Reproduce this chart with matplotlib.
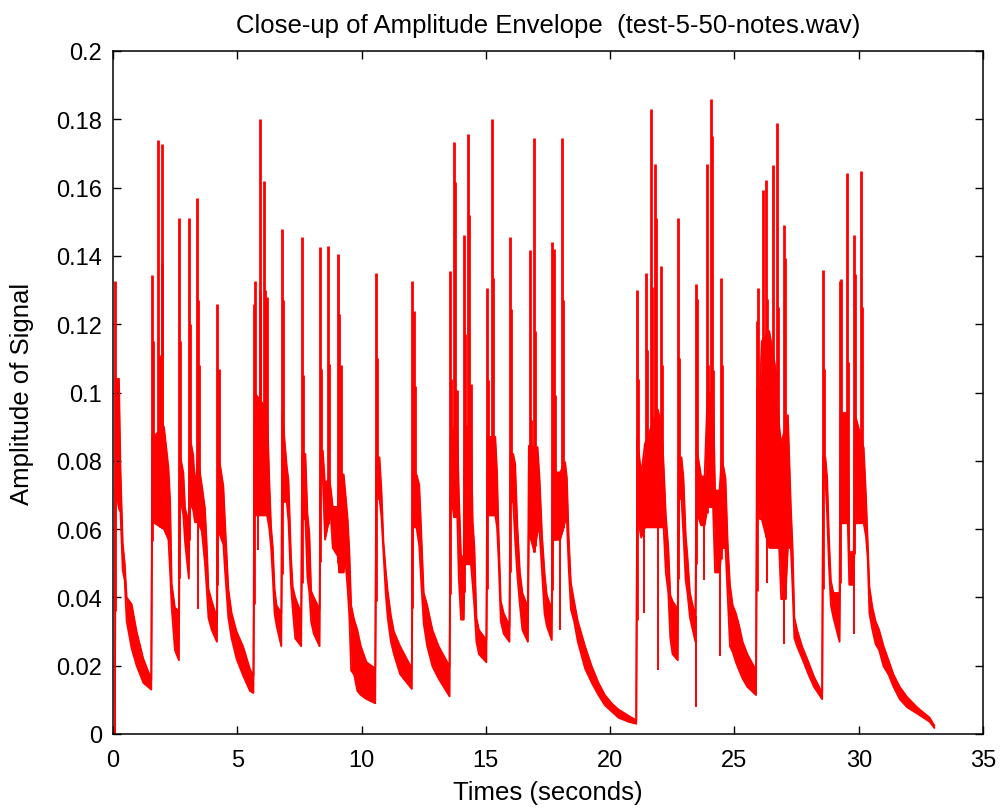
import numpy as np
import matplotlib.pyplot as plt

plt.rcParams['font.family'] = ['Liberation Sans', 'DejaVu Sans']

# dense part of the envelope: time (s), upper and lower edge
band_t = [0.00, 0.08, 0.10, 0.24, 0.30, 0.39, 0.47, 0.55, 0.75, 0.95, 1.22, 1.54,
          1.58, 1.62, 2.05, 2.23, 2.30, 2.36, 2.49, 2.65,
          2.69, 2.83, 2.90, 3.05, 3.09, 3.23, 3.30, 3.41, 3.57, 3.70, 3.77, 3.84, 3.97, 4.18,
          4.22, 4.44, 4.50, 4.64, 4.77, 4.97, 5.24, 5.51, 5.65,
          5.69, 6.20, 6.29, 6.36, 6.43, 6.50, 6.58, 6.77,
          6.81, 6.99, 7.06, 7.16, 7.23, 7.33, 7.57,
          7.61, 7.74, 7.82, 7.90, 7.97, 8.08, 8.31,
          8.35, 8.44, 8.53, 8.70, 8.77, 8.84, 9.05, 9.10, 9.28, 9.34, 9.44, 9.51, 9.58, 9.70,
          9.83, 9.97, 10.20, 10.55,
          10.59, 10.72, 10.80, 10.88, 10.97, 11.05, 11.18, 11.30, 11.55, 12.02,
          12.06, 12.21, 12.32, 12.40, 12.50, 12.64, 12.85, 13.10, 13.54,
          13.58, 13.72, 13.85, 13.91, 14.00, 14.11, 14.15, 14.40, 14.47, 14.54, 14.62, 14.72, 15.02,
          15.06, 15.38, 15.45, 15.51, 15.60, 15.72, 15.95,
          15.99, 16.10, 16.18, 16.27, 16.37, 16.47, 16.69,
          16.73, 16.95, 17.08, 17.16, 17.26, 17.36, 17.45, 17.65,
          17.69, 17.99, 18.19, 18.26, 18.33, 18.42, 18.55, 18.70, 18.99, 19.26, 19.53, 19.79,
          20.06, 20.33, 20.73, 21.05,
          21.09, 21.25, 21.40, 21.92, 22.07, 22.15, 22.24, 22.34, 22.42, 22.51, 22.72,
          22.76, 22.87, 22.95, 23.04, 23.11, 23.21, 23.43,
          23.48, 23.66, 23.80, 23.92, 24.14, 24.22, 24.40, 24.49, 24.64, 24.73, 24.82, 24.93,
          25.06, 25.19, 25.33, 25.52, 25.87,
          25.91, 26.03, 26.10, 26.40, 26.70, 26.80, 26.88, 27.05, 27.15, 27.27, 27.34, 27.41,
          27.52, 27.72, 27.98, 28.20, 28.53,
          28.57, 28.66, 28.73, 28.80, 28.88, 28.98, 29.23,
          29.27, 29.56, 29.62, 29.80, 29.84, 30.20, 30.29, 30.36, 30.43, 30.55, 30.68, 30.82,
          31.00, 31.20, 31.40, 31.65, 31.95, 32.35, 32.85, 33.04]
band_hi = [0.001, 0.001, 0.104, 0.104, 0.078, 0.056, 0.050, 0.040, 0.038, 0.030, 0.022, 0.016,
           0.087, 0.087, 0.090, 0.078, 0.068, 0.044, 0.037, 0.036,
           0.082, 0.0765, 0.066, 0.062, 0.087, 0.0815, 0.0715, 0.081, 0.073, 0.066, 0.0555, 0.0425, 0.039, 0.034,
           0.083, 0.0725, 0.063, 0.0425, 0.0355, 0.030, 0.0255, 0.019, 0.017,
           0.100, 0.095, 0.0737, 0.0605, 0.0545, 0.0425, 0.0377, 0.0353,
           0.094, 0.0784, 0.0743, 0.052, 0.043, 0.040, 0.0353,
           0.082, 0.082, 0.0647, 0.0587, 0.0419, 0.040, 0.0365,
           0.083, 0.083, 0.073, 0.075, 0.0713, 0.0665, 0.0665, 0.076, 0.076, 0.0713, 0.0629, 0.0533, 0.0377, 0.0335,
           0.0305, 0.0257, 0.021, 0.0192,
           0.081, 0.081, 0.0713, 0.0563, 0.048, 0.0419, 0.0347, 0.030, 0.0257, 0.0192,
           0.076, 0.076, 0.073, 0.0593, 0.0413, 0.0377, 0.0305, 0.0257, 0.0198,
           0.087, 0.090, 0.090, 0.0713, 0.052, 0.052, 0.090, 0.090, 0.0623, 0.0545, 0.0341, 0.0305, 0.0275,
           0.087, 0.087, 0.0766, 0.0593, 0.0389, 0.0353, 0.0317,
           0.082, 0.082, 0.079, 0.0605, 0.0473, 0.0413, 0.0371,
           0.0844, 0.084, 0.084, 0.0749, 0.0581, 0.0473, 0.0407, 0.0365,
           0.0766, 0.0766, 0.0796, 0.0749, 0.0581, 0.0443, 0.0389, 0.033, 0.0257, 0.0198, 0.015, 0.0114,
           0.009, 0.0072, 0.0054, 0.0040,
           0.087, 0.076, 0.085, 0.095, 0.090, 0.079, 0.064, 0.0545, 0.0407, 0.0389, 0.0365,
           0.081, 0.081, 0.0749, 0.0581, 0.052, 0.0413, 0.0341,
           0.0838, 0.0754, 0.0754, 0.100, 0.100, 0.0713, 0.0713, 0.081, 0.0749, 0.0557, 0.0437, 0.0377,
           0.0353, 0.0317, 0.027, 0.0234, 0.0186,
           0.1012, 0.1012, 0.115, 0.118, 0.105, 0.0904, 0.085, 0.090, 0.0934, 0.0665, 0.0545, 0.0341,
           0.0305, 0.0257, 0.021, 0.0168, 0.012,
           0.081, 0.081, 0.075, 0.0581, 0.0449, 0.0413, 0.0413,
           0.094, 0.094, 0.0533, 0.0533, 0.094, 0.0838, 0.070, 0.0569, 0.0431, 0.0371, 0.033, 0.0305,
           0.0257, 0.0216, 0.0174, 0.0138, 0.0108, 0.0078, 0.0048, 0.0025]
band_lo = [0.000, 0.000, 0.072, 0.066, 0.065, 0.048, 0.045, 0.033, 0.025, 0.020, 0.015, 0.013,
           0.071, 0.062, 0.060, 0.057, 0.047, 0.037, 0.0246, 0.0216,
           0.070, 0.064, 0.056, 0.0455, 0.068, 0.0655, 0.062, 0.062, 0.0595, 0.050, 0.0425, 0.034, 0.0305, 0.027,
           0.060, 0.0555, 0.0485, 0.034, 0.028, 0.022, 0.017, 0.0126, 0.012,
           0.064, 0.064, 0.060, 0.0545, 0.0455, 0.0353, 0.0317, 0.0257,
           0.068, 0.068, 0.0623, 0.0437, 0.0365, 0.028, 0.0257,
           0.0629, 0.0629, 0.046, 0.0413, 0.0329, 0.0293, 0.0257,
           0.075, 0.075, 0.0569, 0.0629, 0.0629, 0.0545, 0.052, 0.0473, 0.0473, 0.0515, 0.0425, 0.0341, 0.0186, 0.0174,
           0.0126, 0.0114, 0.0102, 0.009,
           0.0689, 0.0689, 0.0635, 0.0533, 0.0413, 0.0341, 0.027, 0.0234, 0.0175, 0.0132,
           0.0605, 0.0605, 0.0551, 0.0443, 0.0323, 0.0257, 0.0198, 0.0162, 0.011,
           0.071, 0.0635, 0.0635, 0.046, 0.0335, 0.0335, 0.0497, 0.0497, 0.0437, 0.0371, 0.027, 0.0234, 0.021,
           0.064, 0.064, 0.0605, 0.0515, 0.033, 0.0293, 0.027,
           0.068, 0.068, 0.0563, 0.0461, 0.0377, 0.0305, 0.027,
           0.0593, 0.0533, 0.0593, 0.0593, 0.0473, 0.0353, 0.0317, 0.0275,
           0.0569, 0.0569, 0.0623, 0.0623, 0.0491, 0.0365, 0.033, 0.027, 0.0192, 0.015, 0.0114, 0.0084,
           0.0066, 0.0048, 0.0036, 0.0030,
           0.064, 0.0575, 0.0605, 0.0605, 0.0605, 0.0605, 0.0473, 0.0413, 0.0281, 0.0234, 0.0216,
           0.0689, 0.0689, 0.0581, 0.0449, 0.0413, 0.0341, 0.027,
           0.065, 0.0611, 0.0611, 0.0665, 0.0665, 0.0473, 0.0473, 0.0545, 0.0545, 0.0401, 0.0257, 0.024,
           0.021, 0.0186, 0.0162, 0.0138, 0.0114,
           0.0725, 0.0629, 0.0629, 0.0545, 0.0545, 0.0545, 0.0395, 0.0395, 0.0545, 0.0545, 0.0425, 0.0281,
           0.0257, 0.0222, 0.0174, 0.0138, 0.0102,
           0.075, 0.075, 0.064, 0.0497, 0.0377, 0.0341, 0.027,
           0.0617, 0.0617, 0.0437, 0.0437, 0.0617, 0.0617, 0.058, 0.0515, 0.0353, 0.0305, 0.0263, 0.0246,
           0.0198, 0.0174, 0.0138, 0.0102, 0.0078, 0.006, 0.0036, 0.0018]

# note attacks and other narrow peaks: time (s) and top value
spike_t = [0.09,
           1.57, 1.60, 1.80, 1.89, 1.96, 1.99,
           2.67, 2.71, 3.07, 3.10, 3.39, 3.43, 3.46,
           4.20, 4.26,
           5.67, 5.73, 5.90, 5.93, 6.08, 6.11, 6.18,
           6.79, 6.85,
           7.59, 7.65,
           8.33, 8.38, 8.66, 8.70, 9.07, 9.10, 9.18,
           10.57, 10.62,
           12.04, 12.09, 12.15,
           13.56, 13.60, 13.72, 13.76, 13.85, 14.13, 14.17, 14.30, 14.34, 14.40,
           15.04, 15.10, 15.26, 15.30,
           15.97, 16.02,
           16.78, 16.82, 16.95, 16.99,
           17.67, 17.73, 17.80, 18.08, 18.12,
           21.07, 21.11, 21.44, 21.48, 21.64, 21.68, 21.80, 21.84, 22.03, 22.07,
           22.74, 22.79,
           23.46, 23.50, 23.88, 23.92, 24.04, 24.08, 24.14, 24.45, 24.49,
           25.89, 25.93, 26.14, 26.29, 26.32, 26.54, 26.70, 26.74, 27.01, 27.05,
           28.55, 28.60,
           29.25, 29.30, 29.52, 29.56, 29.82, 29.86, 30.09, 30.13]
spike_top = [0.1326,
             0.1345, 0.115, 0.174, 0.111, 0.1727, 0.138,
             0.151, 0.115, 0.151, 0.120, 0.157, 0.127, 0.108,
             0.126, 0.107,
             0.126, 0.1326, 0.180, 0.130, 0.162, 0.130, 0.128,
             0.148, 0.127,
             0.1455, 0.105,
             0.1425, 0.107, 0.143, 0.1084, 0.1407, 0.123, 0.108,
             0.135, 0.110,
             0.1326, 0.124, 0.102,
             0.1357, 0.104, 0.1733, 0.1617, 0.1006, 0.146, 0.117, 0.1757, 0.152, 0.1024,
             0.1305, 0.1036, 0.180, 0.1335,
             0.1455, 0.1245,
             0.1417, 0.092, 0.1745, 0.118,
             0.144, 0.142, 0.0994, 0.1745, 0.127,
             0.130, 0.104, 0.135, 0.1125, 0.183, 0.131, 0.167, 0.151, 0.137, 0.108,
             0.151, 0.110,
             0.1317, 0.1275, 0.167, 0.108, 0.186, 0.175, 0.1066, 0.1335, 0.108,
             0.121, 0.1305, 0.1593, 0.1623, 0.1275, 0.1665, 0.179, 0.125, 0.149, 0.1395,
             0.136, 0.107,
             0.1326, 0.1333, 0.1644, 0.109, 0.146, 0.1347, 0.165, 0.125]

# narrow dips below the band: time (s) and bottom value
dip_t = [3.43, 5.85, 17.97, 21.36, 21.93, 23.44, 23.79, 24.42, 26.30, 27.01, 29.81]
dip_bottom = [0.0365, 0.054, 0.0305, 0.0353, 0.0186, 0.0078, 0.045, 0.0228, 0.0443, 0.0263, 0.0293]

fig = plt.figure(figsize=(10.02, 8.12), dpi=100)
ax = fig.add_axes([113 / 1002, 77 / 812, 870 / 1002, 683 / 812])

ax.fill_between(band_t, band_lo, band_hi, color='red', linewidth=0)
ax.plot(band_t, band_hi, color='red', linewidth=1.3)
ax.plot(band_t, band_lo, color='red', linewidth=1.3)

base = np.interp(spike_t, band_t, band_lo)
ax.vlines(spike_t, base, spike_top, color='red', linewidth=2.0)
top = np.interp(dip_t, band_t, band_lo)
ax.vlines(dip_t, dip_bottom, top, color='red', linewidth=1.4)

ax.set_xlim(0, 35)
ax.set_ylim(0, 0.2)
ax.set_xticks(np.arange(0, 36, 5))
yt = np.arange(0, 0.201, 0.02)
ax.set_yticks(yt)
ax.set_yticklabels(['0', '0.02', '0.04', '0.06', '0.08', '0.1', '0.12', '0.14', '0.16', '0.18', '0.2'])
ax.tick_params(direction='in', length=6, width=1, top=True, right=True, labelsize=17)
ax.tick_params(axis='x', pad=11)
ax.tick_params(axis='y', pad=8)
for s in ax.spines.values():
    s.set_linewidth(1.1)

ax.set_title('Close-up of Amplitude Envelope  (test-5-50-notes.wav)', fontsize=18.5, pad=14)
ax.set_xlabel('Times (seconds)', fontsize=18.5, labelpad=6)
ax.set_ylabel('Amplitude of Signal', fontsize=18.5, labelpad=16)

plt.savefig('out.png', dpi=100)
